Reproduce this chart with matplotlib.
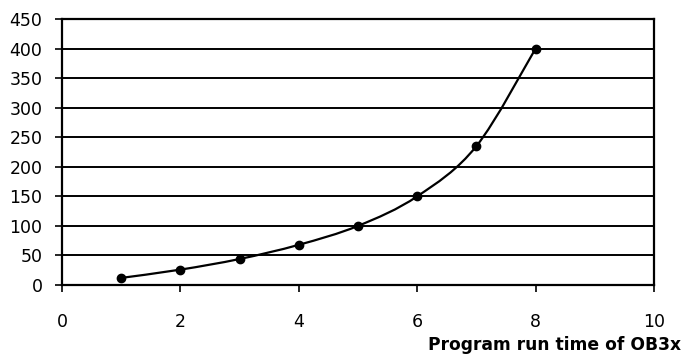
import matplotlib
matplotlib.use("Agg")
import matplotlib.pyplot as plt
from matplotlib.path import Path
from matplotlib.patches import PathPatch
import numpy as np

plt.rcParams['font.family'] = ['DejaVu Sans']

x_vals = [1, 2, 3, 4, 5, 6, 7, 8]
y_vals = [12, 26, 44, 68, 100, 150, 235, 400]
x_ticks = [0, 2, 4, 6, 8, 10]
y_ticks = [0, 50, 100, 150, 200, 250, 300, 350, 400, 450]
x_label = "Program run time of OB3x"

fig = plt.figure(figsize=(6.82, 3.54), dpi=100)
ax = fig.add_axes([62 / 682, 1 - 285 / 354, (654 - 62) / 682, (285 - 19) / 354])

ax.set_xlim(0, 10)
ax.set_ylim(0, 450)
ax.set_xticks(x_ticks)
ax.set_yticks(y_ticks)
ax.tick_params(axis='both', direction='out', length=5, width=1.2,
               labelsize=12.5, colors='black')
ax.tick_params(axis='y', pad=9)
ax.tick_params(axis='x', pad=15)
ax.yaxis.grid(True, color='black', linewidth=1.4)
ax.set_axisbelow(True)
for s in ax.spines.values():
    s.set_linewidth(1.6)
    s.set_color('black')

# smoothed connecting line (cardinal spline drawn as cubic Bezier segments)
px = np.array(x_vals, dtype=float)
py = np.array(y_vals, dtype=float)
n = len(px)
verts = [(px[0], py[0])]
codes = [Path.MOVETO]
t = 1 / 6
for i in range(n - 1):
    i0 = max(i - 1, 0)
    i3 = min(i + 2, n - 1)
    c1 = (px[i] + (px[i + 1] - px[i0]) * t, py[i] + (py[i + 1] - py[i0]) * t)
    c2 = (px[i + 1] - (px[i3] - px[i]) * t, py[i + 1] - (py[i3] - py[i]) * t)
    verts += [c1, c2, (px[i + 1], py[i + 1])]
    codes += [Path.CURVE4] * 3
ax.add_patch(PathPatch(Path(verts, codes), facecolor='none',
                       edgecolor='black', linewidth=1.6, zorder=3))
ax.plot(x_vals, y_vals, linestyle='none', marker='o', markersize=6,
        color='black', zorder=4)

fig.text(681 / 682, 1 - 350 / 354, x_label, ha='right', va='baseline',
         fontsize=12.3, fontweight='bold')

fig.savefig("out.png", dpi=100)
